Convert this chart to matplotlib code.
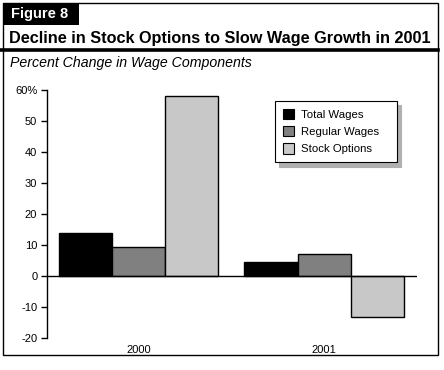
import matplotlib
matplotlib.use('Agg')
import matplotlib.pyplot as plt
from matplotlib.patches import Rectangle, Patch
from matplotlib.lines import Line2D
import numpy as np

plt.rcParams['font.family'] = ['Liberation Sans', 'DejaVu Sans']

# data
years = ['2000', '2001']
series = ['Total Wages', 'Regular Wages', 'Stock Options']
total_wages = [14.0, 4.5]
regular_wages = [9.3, 7.1]
stock_options = [58.0, -13.3]
colors = ['#000000', '#808080', '#c8c8c8']
yticks = [-20, -10, 0, 10, 20, 30, 40, 50, 60]
ytick_labels = ['-20', '-10', '0', '10', '20', '30', '40', '50', '60%']

W, H = 444, 370
fig = plt.figure(figsize=(W / 100, H / 100), dpi=100)

def fx(px):
    return px / W

def fy(py):
    return 1 - py / H

# frame around the whole figure
fig.patches.append(Rectangle((fx(3), fy(355)), fx(438) - fx(3), fy(3) - fy(355),
                             transform=fig.transFigure, fill=False, ec='black', lw=1.0))
# black "Figure 8" tab
fig.patches.append(Rectangle((fx(3), fy(25)), fx(79) - fx(3), fy(3) - fy(25),
                             transform=fig.transFigure, fc='black', ec='black', lw=0))
fig.text(fx(11), fy(14), 'Figure 8', color='white', fontsize=10.5, fontweight='bold',
         va='center', ha='left')
fig.text(fx(9), fy(38), 'Decline in Stock Options to Slow Wage Growth in 2001',
         fontsize=11.7, fontweight='bold', va='center', ha='left')
fig.add_artist(Line2D([fx(0), fx(438)], [fy(50), fy(50)], transform=fig.transFigure,
                      color='black', lw=2.6))
fig.text(fx(10), fy(63), 'Percent Change in Wage Components', fontsize=10.2,
         fontstyle='italic', va='center', ha='left')

# axes placed so that 60 -> y=90 px and -20 -> y=338 px
ax = fig.add_axes([fx(47), fy(338), fx(417) - fx(47), fy(90) - fy(338)])
x = np.arange(len(years))
width = 0.287
vals = [total_wages, regular_wages, stock_options]
for i, (name, v) in enumerate(zip(series, vals)):
    ax.bar(x + (i - 1) * width, v, width, color=colors[i], edgecolor='black',
           linewidth=1.0, label=name, zorder=2)

ax.set_xlim(-0.493, 1.5)
ax.set_ylim(-20, 60)
ax.axhline(0, color='black', lw=1.0, zorder=3)
for s in ['top', 'right', 'bottom']:
    ax.spines[s].set_visible(False)
ax.spines['left'].set_linewidth(1.0)
ax.set_yticks(yticks)
ax.set_yticklabels(ytick_labels)
ax.tick_params(axis='y', direction='out', length=4, width=1.0, labelsize=8, pad=3)
ax.set_xticks(x)
ax.set_xticklabels(years)
ax.tick_params(axis='x', length=0, labelsize=8, pad=5)
ax.patch.set_alpha(0)

handles = [Patch(facecolor=c, edgecolor='black', linewidth=0.8) for c in colors]
leg = ax.legend(handles, series, loc='upper left',
                bbox_to_anchor=((275 - 47) / 370, 1 - (101 - 90) / 248, (397 - 275) / 370, 0),
                mode='expand', borderaxespad=0,
                fontsize=8.2, frameon=True, fancybox=False, edgecolor='black',
                handlelength=1.0, handleheight=1.0, handletextpad=0.55,
                borderpad=0.7, labelspacing=0.55,
                shadow={'color': '#b0b0b0', 'alpha': 1, 'ox': 3, 'oy': -3})
leg.get_frame().set_linewidth(0.8)

fig.savefig('out.png', dpi=100)
